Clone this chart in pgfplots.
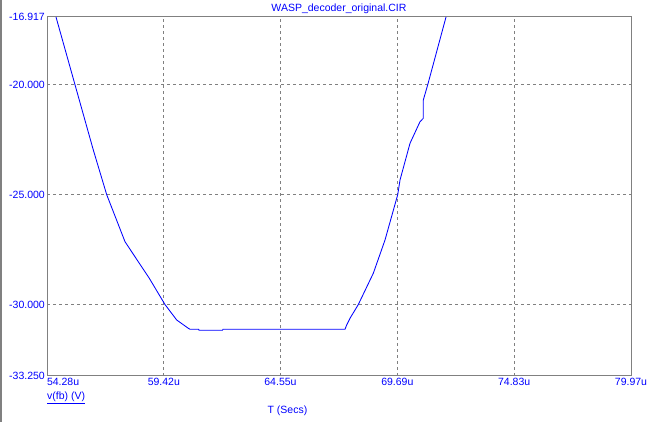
\documentclass[border=0pt]{standalone}
\usepackage{fontspec}
\setmainfont{Liberation Sans}
\usepackage{pgfplots}
\pgfplotsset{compat=1.18}
\definecolor{mcblue}{RGB}{0,0,255}
\definecolor{mcgray}{RGB}{128,128,128}
\begin{document}
\fontsize{10.5}{12}\selectfont
\begin{tikzpicture}
\useasboundingbox[fill=white] (0pt,0pt) rectangle (657pt,422pt);
\draw[mcgray, line width=1.5pt] (1.2pt,0pt) -- (1.2pt,422pt);
\begin{axis}[at={(47pt,46pt)}, anchor=south west, scale only axis,
 width=584pt, height=359pt,
 xmin=54.28, xmax=79.97, ymin=-33.25, ymax=-16.917,
 xtick={59.42,64.55,69.69,74.83},
 xticklabels={59.42u,64.55u,69.69u,74.83u},
 extra x ticks={54.28,79.97},
 extra x tick labels={\makebox[0pt][l]{54.28u},79.97u},
 ytick={-30,-25,-20},
 yticklabels={-30.000,-25.000,-20.000},
 extra y ticks={-33.25,-16.917},
 extra y tick labels={-33.250,-16.917},
 extra tick style={grid=none},
 grid=major,
 major grid style={mcgray, dash pattern=on 3pt off 3pt, line width=0.8pt},
 axis line style={mcgray, line width=1pt},
 major tick length=0pt,
 tick label style={text=mcblue, font=\fontsize{10.5}{12}\selectfont},
 xticklabel style={inner sep=1pt, anchor=north, yshift=-1pt},
 yticklabel style={inner sep=1pt, anchor=east, xshift=-1pt},
 clip=true,
]
\addplot[mcblue, line width=0.85pt] coordinates {
(54.676,-16.917)
(55.512,-20.0)
(56.317,-22.968)
(56.906,-25.0)
(57.711,-27.140)
(58.780,-28.805)
(59.471,-30.0)
(59.985,-30.702)
(60.496,-31.080)
(60.571,-31.125)
(60.95,-31.125)
(60.97,-31.17)
(62.00,-31.17)
(62.02,-31.125)
(67.389,-31.125)
(67.463,-30.93)
(67.609,-30.625)
(67.974,-30.0)
(68.634,-28.578)
(69.149,-27.063)
(69.708,-25.0)
(69.809,-24.333)
(70.249,-22.663)
(70.689,-21.680)
(70.834,-21.526)
(70.834,-20.693)
(71.028,-20.0)
(71.833,-16.917)
};
\end{axis}
\node[text=mcblue] at (339pt,413pt) {WASP\_decoder\_original.CIR};
\node[text=mcblue, anchor=west, inner sep=0pt] at (47pt,24pt) {\underline{v(fb) (V)}};
\node[text=mcblue] at (287.5pt,11pt) {T (Secs)};
\end{tikzpicture}
\end{document}
